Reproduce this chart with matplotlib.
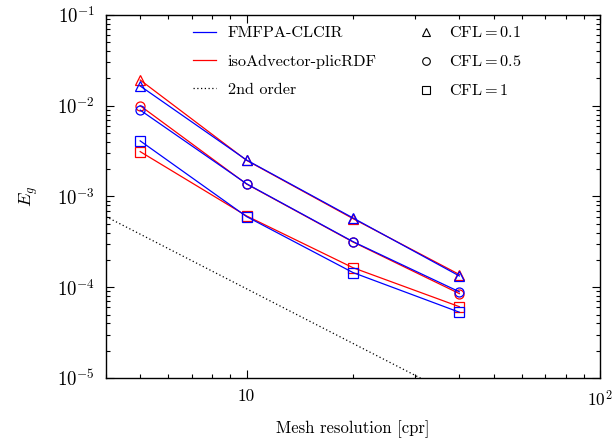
import matplotlib
matplotlib.use("Agg")
import matplotlib.pyplot as plt
from matplotlib.lines import Line2D

plt.rcParams['font.family'] = 'serif'
plt.rcParams['font.serif'] = ['cmr10']
plt.rcParams['mathtext.fontset'] = 'cm'
plt.rcParams['axes.formatter.use_mathtext'] = True
plt.rcParams['axes.unicode_minus'] = False

resolution = [5, 10, 20, 40]

fmfpa_cfl01 = [1.65e-2, 2.52e-3, 5.8e-4, 1.33e-4]
fmfpa_cfl05 = [8.95e-3, 1.38e-3, 3.18e-4, 8.9e-5]
fmfpa_cfl1 = [4.1e-3, 6.0e-4, 1.45e-4, 5.3e-5]

iso_cfl01 = [1.92e-2, 2.50e-3, 5.7e-4, 1.38e-4]
iso_cfl05 = [1.0e-2, 1.37e-3, 3.15e-4, 8.5e-5]
iso_cfl1 = [3.12e-3, 6.1e-4, 1.64e-4, 6.1e-5]

ref_x = [4, 100]
ref_y = [6.0e-4, 9.6e-7]

fig = plt.figure(figsize=(6.16, 4.41), dpi=100)
ax = fig.add_axes([0.172, 0.143, 0.802, 0.823])

blue = (0, 0, 1)
red = (1, 0, 0)
ms = 6.5
for ys, mk in [(iso_cfl01, '^'), (iso_cfl05, 'o'), (iso_cfl1, 's')]:
    ax.plot(resolution, ys, color=red, lw=0.9, marker=mk, ms=ms, mfc='none', mew=0.9)
for ys, mk in [(fmfpa_cfl01, '^'), (fmfpa_cfl05, 'o'), (fmfpa_cfl1, 's')]:
    ax.plot(resolution, ys, color=blue, lw=0.9, marker=mk, ms=ms, mfc='none', mew=0.9)
ax.plot(ref_x, ref_y, color='black', lw=0.9, ls=(0, (1, 2)))

ax.set_xscale('log')
ax.set_yscale('log')
ax.set_xlim(4, 100)
ax.set_ylim(1e-5, 1e-1)
ax.set_xticks([10, 100])
ax.set_xticklabels(['10', r'$10^{2}$'])
ax.set_yticks([1e-5, 1e-4, 1e-3, 1e-2, 1e-1])
ax.set_yticklabels([r'$10^{-5}$', r'$10^{-4}$', r'$10^{-3}$', r'$10^{-2}$', r'$10^{-1}$'])
ax.tick_params(which='both', direction='in', top=True, right=True, width=0.8)
ax.tick_params(axis='y', labelsize=13.5)
ax.tick_params(axis='x', labelsize=12.5)
ax.tick_params(which='major', length=6, pad=8)
ax.tick_params(which='minor', length=3)
for s in ax.spines.values():
    s.set_linewidth(1.0)

ax.set_xlabel('Mesh resolution [cpr]', fontsize=12, labelpad=8)
ax.set_ylabel(r'$E_g$', fontsize=13, labelpad=12)

handles = [
    Line2D([], [], color=blue, lw=0.9),
    Line2D([], [], color=red, lw=0.9),
    Line2D([], [], color='black', lw=0.9, ls=(0, (1, 2))),
    Line2D([], [], color='black', ls='none', marker='^', mfc='none', ms=5.5, mew=0.8),
    Line2D([], [], color='black', ls='none', marker='o', mfc='none', ms=5.5, mew=0.8),
    Line2D([], [], color='black', ls='none', marker='s', mfc='none', ms=5.5, mew=0.8),
]
labels = ['FMFPA-CLCIR', 'isoAdvector-plicRDF', '2nd order',
          r'$\mathrm{CFL} = 0.1$', r'$\mathrm{CFL} = 0.5$', r'$\mathrm{CFL} = 1$']
ax.legend(handles, labels, ncol=2, frameon=False, fontsize=11.7,
          loc='upper left', bbox_to_anchor=(0.146, 1.012), columnspacing=2.3,
          handlelength=1.45, handletextpad=0.7, labelspacing=0.86)

fig.savefig('out.png', dpi=100)
